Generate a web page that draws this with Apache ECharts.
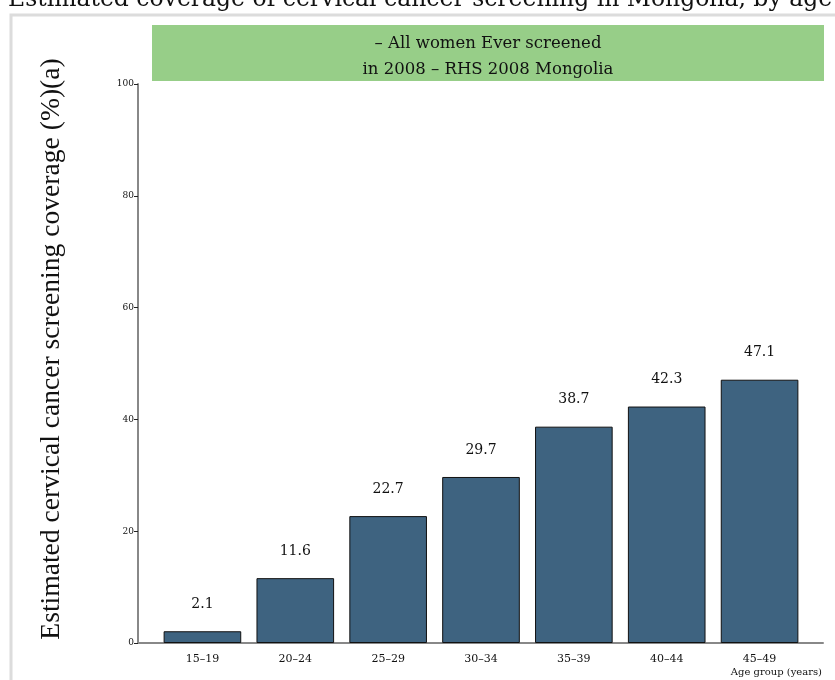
<!DOCTYPE html>
<html>
<head>
<meta charset="utf-8">
<script src="https://cdn.jsdelivr.net/npm/echarts@6/dist/echarts.min.js"></script>
<style>
  html, body { margin: 0; padding: 0; background: #fff; }
  #chart { width: 835px; height: 680px; }
</style>
</head>
<body>
<div id="chart"></div>
<script>
// age groups and screening coverage (%)
const ageGroups = ['15–19', '20–24', '25–29', '30–34', '35–39', '40–44', '45–49']
const coverage = [2.1, 11.6, 22.7, 29.7, 38.7, 42.3, 47.1]
const yMin = 0
const yMax = 100
const yStep = 20

const serif = 'DejaVu Serif'
const timesLike = 'Liberation Serif'

const chart = echarts.init(document.getElementById('chart'), null, { renderer: 'canvas' })

const option = {
  animation: false,
  backgroundColor: '#fff',
  title: {
    text: 'Estimated coverage of cervical cancer screening in Mongolia, by age',
    left: 8,
    top: -12,
    padding: 0,
    textStyle: { fontFamily: serif, fontSize: 23.5, fontWeight: 'normal', color: '#111' }
  },
  graphic: [
    // outer frame
    {
      type: 'rect',
      shape: { x: 11, y: 15, width: 900, height: 700 },
      style: { fill: 'none', stroke: '#dcdcdc', lineWidth: 3 },
      silent: true
    },
    // green caption box
    {
      type: 'rect',
      shape: { x: 152, y: 25, width: 672, height: 56 },
      style: { fill: '#97ce88' },
      silent: true
    },
    {
      type: 'text',
      x: 488,
      y: 57,
      style: {
        text: '– All women Ever screened\nin 2008 – RHS 2008 Mongolia',
        fontFamily: serif,
        fontSize: 16.5,
        lineHeight: 26,
        fill: '#111',
        align: 'center',
        verticalAlign: 'middle'
      },
      silent: true
    },
    // y axis title
    {
      type: 'text',
      x: 52,
      y: 349,
      rotation: Math.PI / 2,
      style: {
        text: 'Estimated cervical cancer screening coverage (%)(a)',
        fontFamily: timesLike,
        fontSize: 27.6,
        fill: '#111',
        align: 'center',
        verticalAlign: 'middle'
      },
      silent: true
    }
  ],
  grid: [
    { left: 156, right: 29, top: 84, bottom: 37 },
    { left: 138, right: 12, top: 84, bottom: 37 }
  ],
  xAxis: [
    {
      type: 'category',
      gridIndex: 0,
      data: ageGroups,
      axisLine: { show: false },
      axisTick: { show: false },
      axisLabel: { fontFamily: serif, fontSize: 11, color: '#111', margin: 11 }
    },
    {
      type: 'value',
      gridIndex: 1,
      min: 0,
      max: 1,
      axisLine: { show: true, lineStyle: { color: '#888', width: 2 } },
      axisTick: { show: false },
      axisLabel: { show: false },
      splitLine: { show: false },
      name: 'Age group (years)',
      nameLocation: 'end',
      nameGap: -1,
      nameTextStyle: {
        fontFamily: serif, fontSize: 10, color: '#111',
        align: 'right', verticalAlign: 'top', padding: [24, 0, 0, 0]
      }
    }
  ],
  yAxis: [
    {
      type: 'value',
      gridIndex: 0,
      min: yMin,
      max: yMax,
      interval: yStep,
      offset: 18,
      axisLine: { show: true, lineStyle: { color: '#888', width: 2 } },
      axisTick: { show: true, length: 4, lineStyle: { color: '#222', width: 1 } },
      axisLabel: { fontFamily: serif, fontSize: 9, color: '#111', margin: 4 },
      splitLine: { show: false }
    },
    {
      type: 'value',
      gridIndex: 1,
      show: false
    }
  ],
  series: [
    {
      type: 'bar',
      xAxisIndex: 0,
      yAxisIndex: 0,
      data: coverage,
      barCategoryGap: '16.4%',
      itemStyle: { color: '#3e6380', borderColor: '#111', borderWidth: 1 },
      label: {
        show: true,
        position: 'top',
        distance: 20,
        fontFamily: serif,
        fontSize: 14,
        color: '#111'
      }
    }
  ]
}

chart.setOption(option)
</script>
</body>
</html>
